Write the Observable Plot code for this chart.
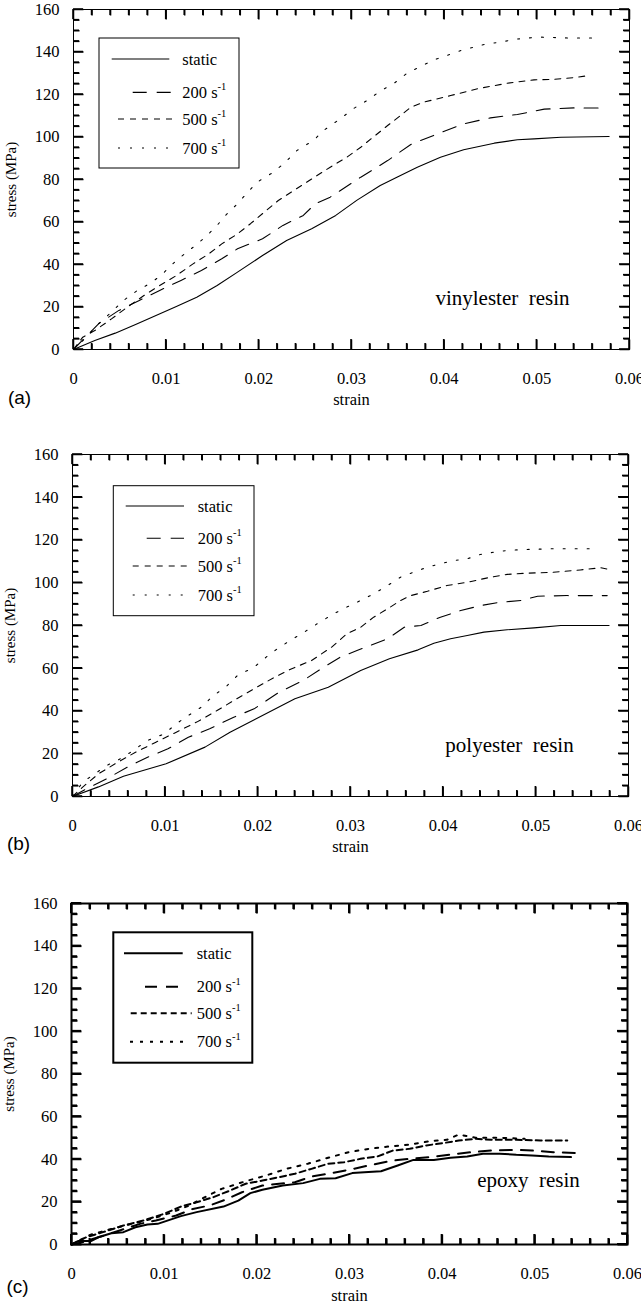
<!DOCTYPE html>
<html><head><meta charset="utf-8">
<script src="https://cdn.jsdelivr.net/npm/d3@7"></script>
<script src="https://cdn.jsdelivr.net/npm/@observablehq/plot@0.6"></script>
<style>
html,body{margin:0;padding:0;background:#fff;}
#chart svg{display:block;}
</style></head><body><div id="chart"></div>
<script>
// ---- axis ticks and labels ----
const xMajor = [0, 0.01, 0.02, 0.03, 0.04, 0.05, 0.06];
const xMajorLabels = ["0", "0.01", "0.02", "0.03", "0.04", "0.05", "0.06"];
const yMajor = [0, 20, 40, 60, 80, 100, 120, 140, 160];
const yMajorLabels = ["0", "20", "40", "60", "80", "100", "120", "140", "160"];
const xMinor = [0.002,0.004,0.006,0.008,0.012,0.014,0.016,0.018,0.022,0.024,0.026,0.028,0.032,0.034,0.036,0.038,0.042,0.044,0.046,0.048,0.052,0.054,0.056,0.058];
const yMinor = [5,10,15,25,30,35,45,50,55,65,70,75,85,90,95,105,110,115,125,130,135,145,150,155];

// ---- legend entries ----
const seriesLabels = ["static", "200 s", "500 s", "700 s"];
const seriesSup = ["", "-1", "-1", "-1"];

// ---- (a) vinylester resin: [strain, stress MPa] ----
const vinylStatic = [[0,0],[0.0023,4.2],[0.0045,7.7],[0.0067,11.8],[0.0089,16.0],[0.0111,20.2],[0.0133,24.6],[0.0155,30.1],[0.0177,36.4],[0.0204,44.2],[0.0230,51.3],[0.0257,56.8],[0.0283,63.1],[0.0306,70.3],[0.0331,77.2],[0.0349,81.1],[0.0371,85.8],[0.0396,90.5],[0.0421,94.0],[0.0454,97.1],[0.0479,98.7],[0.0497,99.1],[0.0526,99.9],[0.0578,100.2]];
const vinyl200 = [[0,0],[0.0027,12.1],[0.0049,18.4],[0.0071,23.1],[0.0093,27.8],[0.0116,32.5],[0.0138,37.2],[0.0160,42.7],[0.0177,47.4],[0.0204,52.1],[0.0226,58.4],[0.0248,63.1],[0.0261,68.6],[0.0277,71.7],[0.0310,81.1],[0.0339,88.9],[0.0364,96.5],[0.0393,101.5],[0.0421,106.2],[0.0450,109.0],[0.0479,110.6],[0.0508,113.1],[0.0540,113.7],[0.0571,113.6]];
const vinyl500 = [[0,0],[0.0010,5.8],[0.0023,8.9],[0.0041,14.4],[0.0058,19.9],[0.0076,25.4],[0.0093,30.1],[0.0111,34.8],[0.0129,40.3],[0.0146,45.0],[0.0160,49.7],[0.0177,54.4],[0.0191,59.2],[0.0208,65.4],[0.0221,70.1],[0.0249,78.0],[0.0277,85.8],[0.0295,90.5],[0.0310,95.2],[0.0321,99.1],[0.0339,105.4],[0.0353,110.1],[0.0364,114.0],[0.0378,116.4],[0.0407,119.5],[0.0436,122.7],[0.0468,125.3],[0.0497,126.9],[0.0518,127.1],[0.0540,127.9],[0.0556,128.9]];
const vinyl700 = [[0,0],[0.0014,5.8],[0.0027,12.1],[0.0041,17.6],[0.0054,23.1],[0.0069,27.8],[0.0085,31.7],[0.0098,36.4],[0.0111,41.9],[0.0129,48.1],[0.0142,52.8],[0.0155,58.4],[0.0164,63.1],[0.0177,68.6],[0.0188,74.0],[0.0198,78.7],[0.0213,82.7],[0.0227,87.4],[0.0241,93.6],[0.0259,98.4],[0.0270,103.1],[0.0288,108.6],[0.0303,113.6],[0.0317,117.2],[0.0331,121.6],[0.0346,125.3],[0.0360,130.0],[0.0375,133.3],[0.0389,136.3],[0.0403,138.4],[0.0418,140.7],[0.0432,142.3],[0.0446,143.8],[0.0461,144.6],[0.0475,145.9],[0.0490,146.6],[0.0504,147.0],[0.0533,146.6],[0.0562,146.6]];

// ---- (b) polyester resin ----
const polyStatic = [[0,0],[0.0028,4.5],[0.0055,9.5],[0.0101,15.3],[0.0143,23.1],[0.0170,30.1],[0.0205,37.9],[0.0240,45.7],[0.0276,51.1],[0.0311,58.9],[0.0342,64.4],[0.0373,68.6],[0.0390,71.7],[0.0408,73.8],[0.0426,75.3],[0.0444,76.9],[0.0469,78.0],[0.0498,78.9],[0.0527,80.0],[0.0579,80.0]];
const poly200 = [[0,0],[0.0015,3.6],[0.0037,8.3],[0.0059,13.7],[0.0081,18.4],[0.0103,22.3],[0.0125,27.7],[0.0148,31.7],[0.0174,37.1],[0.0196,41.0],[0.0223,48.8],[0.0249,54.3],[0.0271,60.5],[0.0289,65.2],[0.0307,68.3],[0.0340,73.8],[0.0358,79.2],[0.0376,80.0],[0.0397,83.9],[0.0419,87.0],[0.0440,89.3],[0.0462,90.9],[0.0484,91.7],[0.0502,93.7],[0.0534,94.0],[0.0577,94.0]];
const poly500 = [[0,0],[0.0011,4.4],[0.0028,10.6],[0.0046,15.3],[0.0068,20.7],[0.0090,25.4],[0.0112,30.1],[0.0134,34.8],[0.0156,40.2],[0.0174,44.9],[0.0196,50.4],[0.0218,55.8],[0.0236,59.7],[0.0258,63.6],[0.0280,70.0],[0.0296,76.1],[0.0311,79.2],[0.0325,83.9],[0.0340,87.8],[0.0354,91.7],[0.0365,94.0],[0.0383,96.0],[0.0404,98.7],[0.0426,100.2],[0.0448,102.3],[0.0469,103.9],[0.0491,104.5],[0.0519,104.9],[0.0548,106.0],[0.0570,107.0],[0.0582,106.0]];
const poly700 = [[0,0],[0.0011,6.7],[0.0024,10.6],[0.0037,14.5],[0.0055,18.4],[0.0068,22.3],[0.0081,26.2],[0.0099,29.3],[0.0112,34.0],[0.0125,37.9],[0.0139,41.8],[0.0152,47.2],[0.0165,51.1],[0.0178,56.6],[0.0196,60.5],[0.0209,65.2],[0.0221,69.1],[0.0235,73.0],[0.0250,76.9],[0.0264,80.8],[0.0282,85.5],[0.0296,88.6],[0.0311,91.7],[0.0325,94.8],[0.0340,98.7],[0.0354,102.6],[0.0368,104.9],[0.0383,107.3],[0.0397,108.9],[0.0412,110.4],[0.0426,111.2],[0.0440,113.2],[0.0455,114.3],[0.0469,115.1],[0.0484,115.5],[0.0519,115.9],[0.0559,115.9]];

// ---- (c) epoxy resin ----
const epoxyStatic = [[0,0],[0.0007,1.6],[0.0021,1.6],[0.0029,3.4],[0.0043,5.3],[0.0056,5.8],[0.0069,8.1],[0.0082,9.4],[0.0093,9.7],[0.0118,13.3],[0.0135,15.2],[0.0164,17.8],[0.0180,20.6],[0.0193,24.1],[0.0206,25.7],[0.0228,27.7],[0.0250,28.8],[0.0268,30.8],[0.0285,31.1],[0.0303,33.5],[0.0316,33.9],[0.0334,34.4],[0.0352,37.1],[0.0369,39.7],[0.0391,39.7],[0.0409,40.7],[0.0427,41.3],[0.0444,42.6],[0.0462,42.6],[0.0480,42.1],[0.0497,41.8],[0.0515,41.3],[0.0539,41.0]];
const epoxy200 = [[0,0],[0.0012,1.1],[0.0029,3.4],[0.0052,6.6],[0.0074,9.7],[0.0091,11.3],[0.0113,13.6],[0.0131,16.7],[0.0149,18.3],[0.0166,21.0],[0.0184,24.5],[0.0206,27.7],[0.0224,28.5],[0.0241,29.2],[0.0259,31.9],[0.0277,33.2],[0.0299,35.0],[0.0321,37.1],[0.0347,39.4],[0.0365,40.2],[0.0387,41.0],[0.0409,42.2],[0.0431,43.3],[0.0453,44.1],[0.0480,44.4],[0.0497,44.1],[0.0520,43.3],[0.0550,42.8]];
const epoxy500 = [[0,0],[0.0016,3.4],[0.0034,5.8],[0.0056,8.9],[0.0078,11.3],[0.0100,14.4],[0.0118,17.8],[0.0135,19.8],[0.0153,22.2],[0.0171,25.3],[0.0188,28.5],[0.0206,30.0],[0.0224,31.6],[0.0241,33.2],[0.0259,35.5],[0.0277,37.9],[0.0294,38.6],[0.0312,40.2],[0.0330,41.3],[0.0347,44.1],[0.0365,44.9],[0.0383,46.5],[0.0400,47.5],[0.0418,48.8],[0.0436,49.6],[0.0453,49.1],[0.0480,49.1],[0.0506,48.8],[0.0535,48.8]];
const epoxy700 = [[0,0],[0.0020,4.5],[0.0043,7.3],[0.0065,9.7],[0.0087,12.0],[0.0109,15.2],[0.0127,18.3],[0.0144,22.2],[0.0162,26.1],[0.0188,29.7],[0.0210,32.4],[0.0232,35.5],[0.0255,37.9],[0.0277,40.7],[0.0299,43.3],[0.0321,44.9],[0.0343,46.0],[0.0365,46.9],[0.0387,48.5],[0.0405,49.1],[0.0418,51.6],[0.0436,50.1],[0.0462,50.1],[0.0489,49.6]];

const dashThin = [null, "14,10", "6,6", "2,10"];
const dashBold = [null, "12,9", "6,4", "3,7"];

const panels = [
  {series: [vinylStatic, vinyl200, vinyl500, vinyl700], height: 440, mt: 9, mb: 91, ml: 73, mr: 12, bold: false,
   name: "vinylester\u00a0 resin", nameDx: -127, nameDy: -51, letter: "(a)", letterDy: 48, strainDy: 50,
   legend: {box: [26, 29, 166, 159], ys: [50, 83.4, 110, 139], lines: [[38.7, 96.3], [59.7, 99.7], [45, 105], [45, 105]], textX: 109.3}},
  {series: [polyStatic, poly200, poly500, poly700], height: 445, mt: 14, mb: 89, ml: 72, mr: 13, bold: false,
   name: "polyester\u00a0 resin", nameDx: -119, nameDy: -51, letter: "(b)", letterDy: 47, strainDy: 50,
   legend: {box: [41.3, 31.7, 182, 161.7], ys: [52, 84.3, 112, 141], lines: [[53.7, 112], [74.7, 112], [60.7, 119.7], [60.7, 119.7]], textX: 125.7}},
  {series: [epoxyStatic, epoxy200, epoxy500, epoxy700], height: 417, mt: 18, mb: 58, ml: 71, mr: 14, bold: true,
   name: "epoxy\u00a0 resin", nameDx: -99, nameDy: -64, letter: "(c)", letterDy: 42, strainDy: 51,
   legend: {box: [42.3, 29.3, 181.3, 159.7], ys: [50.3, 83.7, 110.3, 138.7], lines: [[53, 111.7], [74, 111.7], [59.7, 120.7], [59, 115.7]], textX: 125.7}}
];

const W = 641;
const X0 = 0, X1 = 0.06, Y0 = 0, Y1 = 160;
const fmtX = d => xMajorLabels[xMajor.findIndex(v => Math.abs(v - d) < 1e-9)];
const fmtY = d => yMajorLabels[yMajor.indexOf(d)];

for (const p of panels) {
  const sw = p.bold ? 2 : 1;
  const tw = p.bold ? 2 : 1.5;
  const lw = p.bold ? 2 : 1.1;
  const dashes = p.bold ? dashBold : dashThin;
  const majorLen = 10, minorLen = 6;
  const innerW = W - p.ml - p.mr, innerH = p.height - p.mt - p.mb;
  const kx = (X1 - X0) / innerW, ky = (Y1 - Y0) / innerH;
  const tickSegs = [];
  for (const v of xMinor) tickSegs.push([[v, Y0], [v, Y0 + minorLen * ky]], [[v, Y1], [v, Y1 - minorLen * ky]]);
  for (const v of xMajor) tickSegs.push([[v, Y0], [v, Y0 + majorLen * ky]], [[v, Y1], [v, Y1 - majorLen * ky]]);
  for (const v of yMinor) tickSegs.push([[X0, v], [X0 + minorLen * kx, v]], [[X1, v], [X1 - minorLen * kx, v]]);
  for (const v of yMajor) tickSegs.push([[X0, v], [X0 + majorLen * kx, v]], [[X1, v], [X1 - majorLen * kx, v]]);
  const marks = [];
  p.series.forEach((s, i) => marks.push(Plot.line(s, {x: d => d[0], y: d => d[1], stroke: "#000", strokeWidth: lw, strokeDasharray: dashes[i]})));
  marks.push(
    Plot.link(tickSegs, {x1: d => d[0][0], y1: d => d[0][1], x2: d => d[1][0], y2: d => d[1][1], stroke: "#000", strokeWidth: tw}),
    Plot.frame({stroke: "#000", strokeWidth: sw}),
    Plot.axisX({ticks: xMajor, tickSize: 0, tickPadding: 23, tickFormat: fmtX, label: null}),
    Plot.axisY({ticks: yMajor, tickSize: 0, tickPadding: 14, tickFormat: fmtY, label: null}),
    Plot.text(["strain"], {text: d => d, frameAnchor: "bottom", textAnchor: "middle", lineAnchor: "middle", dy: p.strainDy, fontSize: 16.5}),
    Plot.text(["stress (MPa)"], {text: d => d, frameAnchor: "left", textAnchor: "middle", lineAnchor: "middle", rotate: -90, dx: -62, fontSize: 15}),
    Plot.text([p.name], {text: d => d, frameAnchor: "bottom-right", textAnchor: "middle", lineAnchor: "middle", dx: p.nameDx, dy: p.nameDy, fontSize: 21}),
    Plot.text([p.letter], {text: d => d, frameAnchor: "bottom-left", textAnchor: "middle", lineAnchor: "middle", dx: -54, dy: p.letterDy, fontSize: 19, fontFamily: "'Liberation Sans', Arial, sans-serif"})
  );
  const svg = Plot.plot({
    width: W, height: p.height,
    marginTop: p.mt, marginBottom: p.mb, marginLeft: p.ml, marginRight: p.mr,
    x: {domain: [X0, X1]}, y: {domain: [Y0, Y1]},
    style: {fontFamily: "'Liberation Serif', 'Times New Roman', serif", fontSize: "16.5px", color: "#000", background: "#fff", overflow: "visible"},
    marks
  });

  // legend box
  const lg = p.legend;
  const g = d3.select(svg).append("g").attr("class", "legend").attr("text-anchor", "start");
  g.append("rect")
    .attr("x", p.ml + lg.box[0]).attr("y", p.mt + lg.box[1])
    .attr("width", lg.box[2] - lg.box[0]).attr("height", lg.box[3] - lg.box[1])
    .attr("fill", "#fff").attr("stroke", "#000").attr("stroke-width", sw);
  seriesLabels.forEach((lab, i) => {
    const y = p.mt + lg.ys[i];
    g.append("line")
      .attr("x1", p.ml + lg.lines[i][0]).attr("x2", p.ml + lg.lines[i][1])
      .attr("y1", y).attr("y2", y)
      .attr("stroke", "#000").attr("stroke-width", lw)
      .attr("stroke-dasharray", dashes[i]);
    const t = g.append("text").attr("x", p.ml + lg.textX).attr("y", y).attr("dy", "0.35em")
      .attr("text-anchor", "start").attr("font-size", 16.5).attr("fill", "#000");
    t.append("tspan").text(lab);
    if (seriesSup[i]) t.append("tspan").attr("font-size", 10.5).attr("dy", "-0.75em").text(seriesSup[i]);
  });

  // extra inward tick layer (same segments) drawn on top, through the plot's scales
  const sx = svg.scale("x"), sy = svg.scale("y");
  const tk = d3.select(svg).append("g").attr("class", "inward-ticks");
  tickSegs.forEach(s => {
    tk.append("line")
      .attr("x1", sx.apply(s[0][0])).attr("y1", sy.apply(s[0][1]))
      .attr("x2", sx.apply(s[1][0])).attr("y2", sy.apply(s[1][1]))
      .attr("stroke", "#000").attr("stroke-width", tw);
  });
  document.getElementById("chart").appendChild(svg);
}
</script></body></html>
